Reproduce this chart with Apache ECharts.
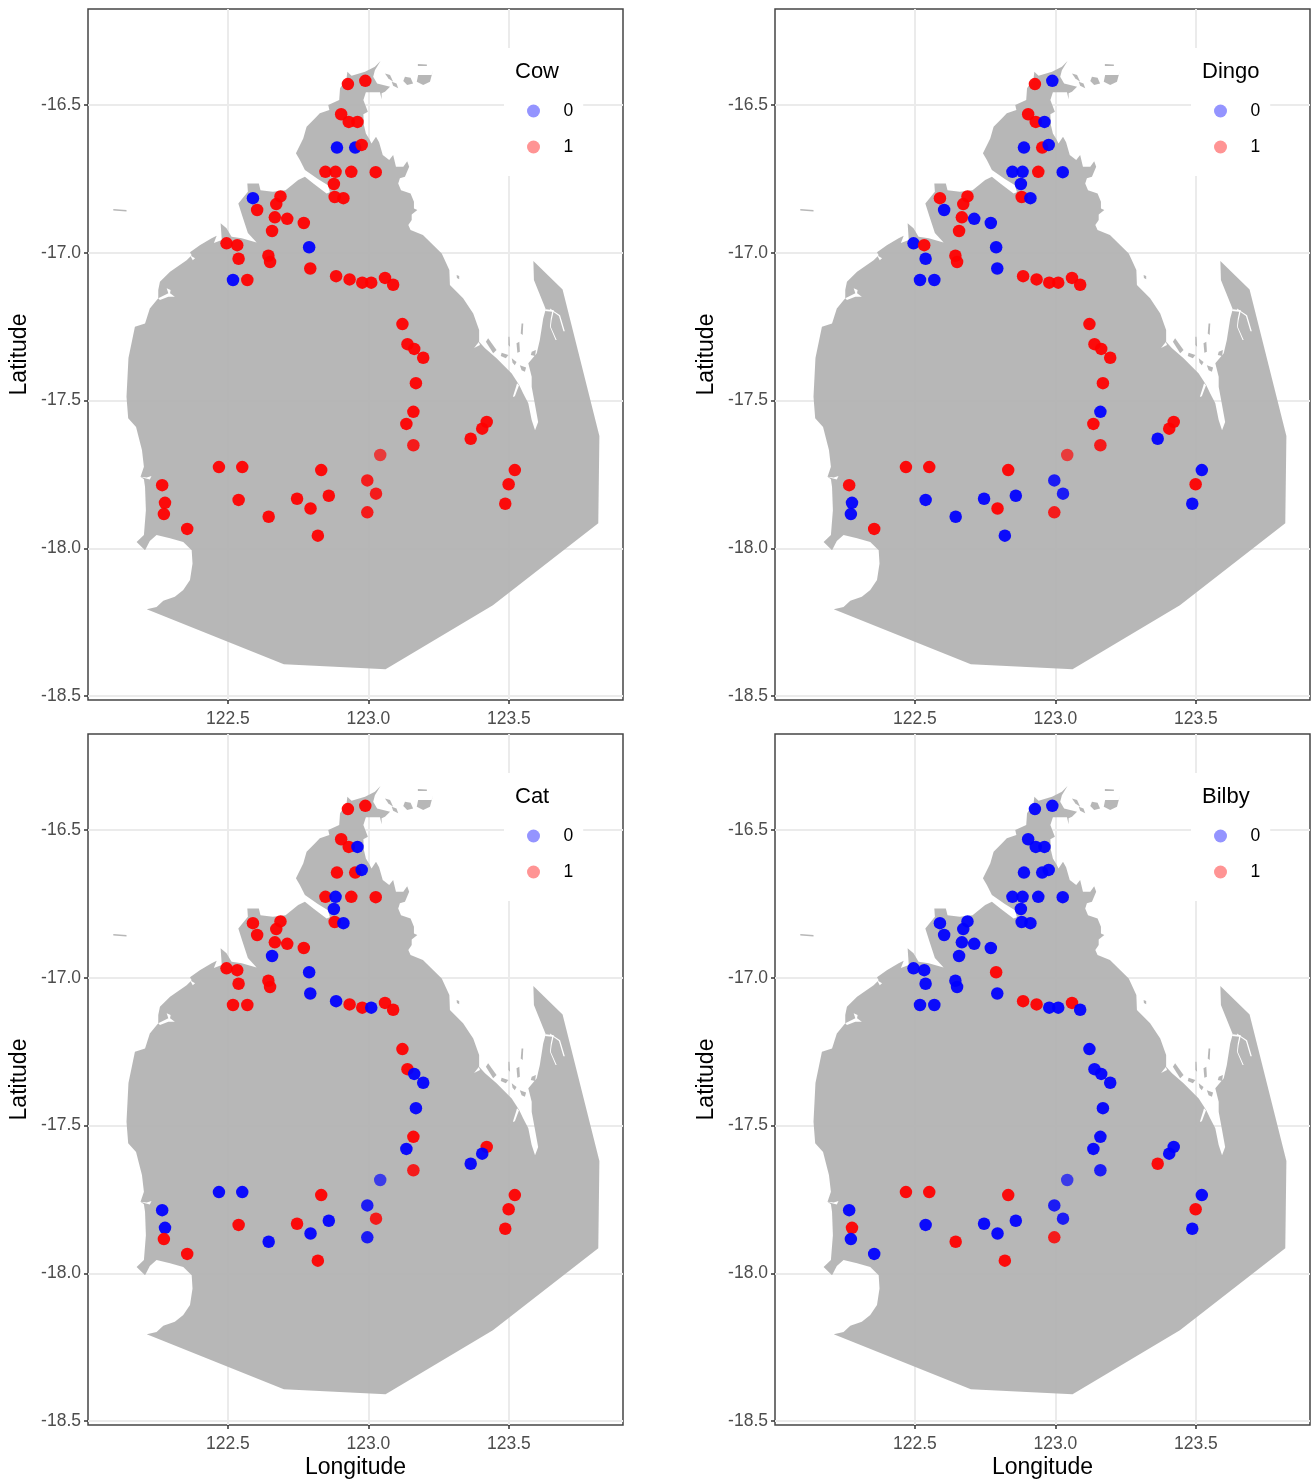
<!DOCTYPE html>
<html><head><meta charset="utf-8">
<style>html,body{margin:0;padding:0;background:#fff}#c{width:1311px;height:1484px}</style>
<script src="https://cdn.jsdelivr.net/npm/echarts@6/dist/echarts.min.js"></script>
</head><body><div id="c"></div>
<script>
const panelNames = ['Cow', 'Dingo', 'Cat', 'Bilby'];
const xTicks = [122.5, 123.0, 123.5];
const yTicks = [-16.5, -17.0, -17.5, -18.0, -18.5];

const siteLon = [122.927,122.989,122.903,122.930,122.961,122.888,122.953,122.976,122.847,122.883,122.939,123.026,122.877,122.880,122.911,
  122.589,122.687,122.672,122.604,122.667,122.711,122.770,122.657,122.495,122.533,122.789,122.538,122.644,122.650,122.793,122.518,122.569,
  122.885,122.933,122.978,123.010,123.059,123.088,123.121,123.139,123.163,123.195,123.169,123.160,123.135,123.160,
  123.042,
  123.421,123.405,123.364,123.521,123.499,123.487,
  122.468,122.551,122.832,122.996,123.027,122.996,122.859,122.746,122.794,122.645,122.538,122.820,122.266,122.276,122.272,122.355];
const siteLat = [-16.429,-16.418,-16.531,-16.557,-16.557,-16.644,-16.644,-16.635,-16.726,-16.726,-16.726,-16.727,-16.767,-16.811,-16.815,
  -16.815,-16.809,-16.835,-16.855,-16.880,-16.885,-16.899,-16.926,-16.968,-16.974,-16.981,-17.020,-17.010,-17.031,-17.053,-17.092,-17.092,
  -17.079,-17.090,-17.101,-17.101,-17.085,-17.108,-17.241,-17.309,-17.325,-17.355,-17.441,-17.538,-17.579,-17.651,
  -17.684,
  -17.572,-17.595,-17.629,-17.735,-17.783,-17.849,
  -17.725,-17.725,-17.735,-17.770,-17.815,-17.878,-17.822,-17.832,-17.865,-17.893,-17.836,-17.957,-17.786,-17.846,-17.884,-17.934];

const cow = [1,1,1,1,1,0,0,1,1,1,1,1,1,1,1,
  0,1,1,1,1,1,1,1,1,1,0,1,1,1,1,0,1,
  1,1,1,1,1,1,1,1,1,1,1,1,1,1,
  1,
  1,1,1,1,1,1,
  1,1,1,1,1,1,1,1,1,1,1,1,1,1,1,1];
const dingo = [1,0,1,1,0,0,1,0,0,0,1,0,0,1,0,
  1,1,1,0,1,0,0,1,0,1,0,0,1,1,0,0,0,
  1,1,1,1,1,1,1,1,1,1,1,0,1,1,
  1,
  1,1,0,0,1,0,
  1,1,1,0,0,1,0,0,1,0,0,0,1,0,0,1];
const cat = [1,1,1,1,0,1,1,0,1,0,1,1,0,1,0,
  1,1,1,1,1,1,1,0,1,1,0,1,1,1,0,1,1,
  0,1,1,0,1,1,1,1,0,0,0,1,0,1,
  0,
  1,0,0,1,1,1,
  0,0,1,0,1,0,0,1,0,0,1,1,0,0,1,1];
const bilby = [0,0,0,0,0,0,0,0,0,0,0,0,0,0,0,
  0,0,0,0,0,0,0,0,0,0,1,0,0,0,0,0,0,
  1,1,0,0,1,0,0,0,0,0,0,0,0,0,
  0,
  0,0,1,0,1,0,
  1,1,1,0,0,1,0,0,0,1,0,1,0,1,0,0];
const presence = [cow, dingo, cat, bilby];

const mainland = [[123.043,-16.351],[123.023,-16.382],[123.017,-16.404],[123.031,-16.427],[123.077,-16.438],[123.059,-16.455],[123.047,-16.460],[123.047,-16.480],[123.041,-16.457],[122.991,-16.457],[122.982,-16.483],[122.998,-16.523],[122.982,-16.531],[122.984,-16.568],[122.991,-16.596],[123.003,-16.615],[123.011,-16.630],[123.027,-16.607],[123.038,-16.626],[123.051,-16.669],[123.074,-16.686],[123.088,-16.669],[123.098,-16.709],[123.124,-16.709],[123.138,-16.690],[123.145,-16.709],[123.130,-16.743],[123.112,-16.748],[123.106,-16.765],[123.116,-16.788],[123.150,-16.799],[123.162,-16.827],[123.162,-16.850],[123.174,-16.855],[123.154,-16.870],[123.154,-16.889],[123.142,-16.906],[123.150,-16.923],[123.194,-16.940],[123.261,-17.002],[123.288,-17.058],[123.290,-17.109],[123.337,-17.154],[123.373,-17.205],[123.394,-17.261],[123.394,-17.301],[123.415,-17.323],[123.456,-17.357],[123.510,-17.408],[123.537,-17.448],[123.551,-17.476],[123.569,-17.509],[123.581,-17.566],[123.593,-17.600],[123.604,-17.572],[123.593,-17.515],[123.581,-17.453],[123.581,-17.419],[123.569,-17.374],[123.599,-17.340],[123.610,-17.295],[123.622,-17.222],[123.631,-17.191],[123.608,-17.137],[123.589,-17.092],[123.587,-17.028],[123.691,-17.124],[123.822,-17.620],[123.818,-17.915],[123.443,-18.192],[123.061,-18.409],[122.699,-18.392],[122.211,-18.206],[122.246,-18.198],[122.270,-18.177],[122.311,-18.164],[122.341,-18.141],[122.365,-18.107],[122.374,-18.051],[122.371,-18.006],[122.341,-17.978],[122.294,-17.966],[122.246,-17.955],[122.222,-17.975],[122.205,-18.006],[122.175,-17.978],[122.201,-17.955],[122.208,-17.871],[122.205,-17.792],[122.201,-17.766],[122.189,-17.758],[122.201,-17.724],[122.194,-17.667],[122.173,-17.589],[122.145,-17.560],[122.139,-17.487],[122.146,-17.356],[122.169,-17.250],[122.205,-17.239],[122.222,-17.188],[122.252,-17.154],[122.252,-17.126],[122.258,-17.098],[122.294,-17.064],[122.353,-17.025],[122.371,-17.008],[122.365,-16.998],[122.400,-16.974],[122.442,-16.951],[122.460,-16.942],[122.450,-16.967],[122.478,-16.957],[122.474,-16.900],[122.495,-16.917],[122.513,-16.946],[122.549,-16.951],[122.602,-16.965],[122.571,-16.933],[122.552,-16.878],[122.537,-16.833],[122.571,-16.793],[122.569,-16.765],[122.610,-16.765],[122.616,-16.788],[122.660,-16.793],[122.705,-16.788],[122.750,-16.754],[122.774,-16.743],[122.804,-16.765],[122.851,-16.799],[122.863,-16.795],[122.856,-16.771],[122.820,-16.750],[122.774,-16.720],[122.756,-16.686],[122.742,-16.663],[122.768,-16.613],[122.780,-16.573],[122.810,-16.545],[122.827,-16.528],[122.861,-16.517],[122.857,-16.500],[122.896,-16.483],[122.899,-16.443],[122.922,-16.410],[122.925,-16.387],[122.940,-16.401],[122.988,-16.387],[123.023,-16.370]];

const islands = [
  [[123.177,-16.398],[123.225,-16.398],[123.230,-16.382],[123.219,-16.421],[123.195,-16.432],[123.172,-16.421]],
  [[123.059,-16.393],[123.077,-16.398],[123.088,-16.421],[123.071,-16.410]],
  [[123.083,-16.421],[123.100,-16.427],[123.106,-16.443],[123.088,-16.435]],
  [[123.130,-16.404],[123.150,-16.408],[123.159,-16.427],[123.138,-16.432],[123.124,-16.419]],
  [[123.176,-16.361],[123.208,-16.363],[123.208,-16.368],[123.176,-16.368]],
  [[122.092,-16.852],[122.139,-16.855],[122.139,-16.860],[122.092,-16.857]],
  [[123.314,-17.075],[123.323,-17.078],[123.323,-17.089],[123.315,-17.085]],
  [[123.545,-17.239],[123.551,-17.239],[123.549,-17.278],[123.542,-17.273]],
  [[123.426,-17.289],[123.456,-17.329],[123.444,-17.340],[123.418,-17.301]],
  [[123.474,-17.338],[123.498,-17.346],[123.489,-17.357],[123.471,-17.349]],
  [[123.527,-17.306],[123.537,-17.301],[123.539,-17.335],[123.530,-17.338]],
  [[123.581,-17.335],[123.596,-17.329],[123.593,-17.349],[123.578,-17.346]],
  [[123.498,-17.284],[123.502,-17.284],[123.504,-17.318],[123.498,-17.312]],
  [[123.539,-17.380],[123.561,-17.388],[123.557,-17.402],[123.545,-17.397]],
  [[123.510,-17.357],[123.527,-17.369],[123.521,-17.380],[123.513,-17.372]]
];

const creeks = [
  [[123.631,-17.191],[123.660,-17.194],[123.652,-17.228],[123.649,-17.250],[123.670,-17.295],[123.666,-17.295],[123.646,-17.250],[123.649,-17.222],[123.654,-17.199],[123.628,-17.197]],
  [[123.646,-17.188],[123.682,-17.211],[123.699,-17.265],[123.694,-17.265],[123.678,-17.214],[123.646,-17.192]],
  [[122.252,-17.154],[122.288,-17.137],[122.282,-17.120],[122.296,-17.126],[122.294,-17.137],[122.311,-17.149],[122.288,-17.149],[122.258,-17.160]],
  [[122.189,-17.758],[122.211,-17.760],[122.228,-17.755],[122.222,-17.767],[122.205,-17.763]],
  [[123.393,-17.302],[123.376,-17.322],[123.397,-17.312]],
  [[123.529,-17.441],[123.514,-17.488],[123.521,-17.485],[123.536,-17.448]],
  [[122.365,-17.008],[122.383,-17.018],[122.375,-17.025]]
];

const PANEL_LEFT = [88, 775], PANEL_TOP = [9, 734];
const FONT = '"Liberation Sans", Arial, sans-serif';
const COL = ['#0000ff', '#ff0000'];
const ALPHA_OF = {45: .85, 46: .68, 56: .85, 57: .85, 58: .85};

const grids = [], xAxes = [], yAxes = [], series = [], titles = [], legends = [];

function polySeries(rings, fill, g, z) {
  return {
    type: 'custom', coordinateSystem: 'cartesian2d', xAxisIndex: g, yAxisIndex: g, z, silent: true, clip: true,
    data: rings.map((r, i) => [r[0][0], r[0][1], i]),
    encode: {x: 0, y: 1},
    renderItem(params, api) {
      const ring = rings[params.dataIndex];
      return {type: 'polygon', shape: {points: ring.map(p => api.coord(p))}, style: {fill}};
    }
  };
}

panelNames.forEach((name, g) => {
  const left = PANEL_LEFT[g % 2], top = PANEL_TOP[Math.floor(g / 2)];
  grids.push({left, top, width: 535, height: 691, show: true, backgroundColor: '#fff', borderColor: '#454545', borderWidth: 1.5});
  xAxes.push({
    type: 'value', gridIndex: g, min: 122.002, max: 123.906,
    name: g >= 2 ? 'Longitude' : '', nameLocation: 'middle', nameGap: 31,
    nameTextStyle: {fontFamily: FONT, fontSize: 23, color: '#000'},
    axisLine: {show: false},
    axisTick: {show: true, length: 4, customValues: xTicks, lineStyle: {color: '#333', width: 1.5}},
    axisLabel: {customValues: xTicks, margin: 10, fontFamily: FONT, fontSize: 17.5, color: '#4d4d4d', formatter: v => (+v).toFixed(1)},
    splitLine: {show: true, lineStyle: {color: '#ebebeb', width: 2}}
  });
  yAxes.push({
    type: 'value', gridIndex: g, min: -18.513, max: -16.175,
    name: 'Latitude', nameLocation: 'middle', nameGap: 57, nameRotate: 90,
    nameTextStyle: {fontFamily: FONT, fontSize: 23, color: '#000'},
    axisLine: {show: false},
    axisTick: {show: true, length: 4, customValues: yTicks, lineStyle: {color: '#333', width: 1.5}},
    axisLabel: {customValues: yTicks, margin: 7, padding: [2, 0, 0, 0], fontFamily: FONT, fontSize: 17.5, color: '#4d4d4d', formatter: v => (+v).toFixed(1)},
    splitLine: {show: true, lineStyle: {color: '#ebebeb', width: 2}}
  });
  series.push(polySeries([mainland, ...islands], 'rgba(178,178,178,0.93)', g, 2));
  series.push(polySeries(creeks, '#fff', g, 2.5));
  series.push({
    type: 'scatter', xAxisIndex: g, yAxisIndex: g, z: 3, symbol: 'circle', symbolSize: 12.5, silent: true,
    data: siteLon.map((lon, i) => ({
      value: [lon, siteLat[i]],
      itemStyle: {color: COL[presence[g][i]], opacity: ALPHA_OF[i] || 0.94}
    }))
  });
  titles.push({text: name, left: left + 427, top: top + 52, textStyle: {fontFamily: FONT, fontSize: 22, fontWeight: 'normal', color: '#000'}, padding: 0});
  legends.push({
    left: left + 416, top: top + 39, orient: 'vertical', data: ['0', '1'], selectedMode: false,
    backgroundColor: '#fff', padding: [54, 10, 20, 23], itemWidth: 50, itemHeight: 13, itemGap: 18,
    icon: 'circle', textStyle: {fontFamily: FONT, fontSize: 17.5, color: '#000'}
  });
});

[0, 1].forEach(k => series.push({
  name: String(k), type: 'scatter', xAxisIndex: 0, yAxisIndex: 0, data: [],
  itemStyle: {color: COL[k], opacity: 0.42}
}));

const chart = echarts.init(document.getElementById('c'), null, {renderer: 'canvas'});
chart.setOption({animation: false, backgroundColor: '#fff', tooltip: {show: false}, grid: grids, xAxis: xAxes, yAxis: yAxes, title: titles, legend: legends, series});
</script></body></html>
